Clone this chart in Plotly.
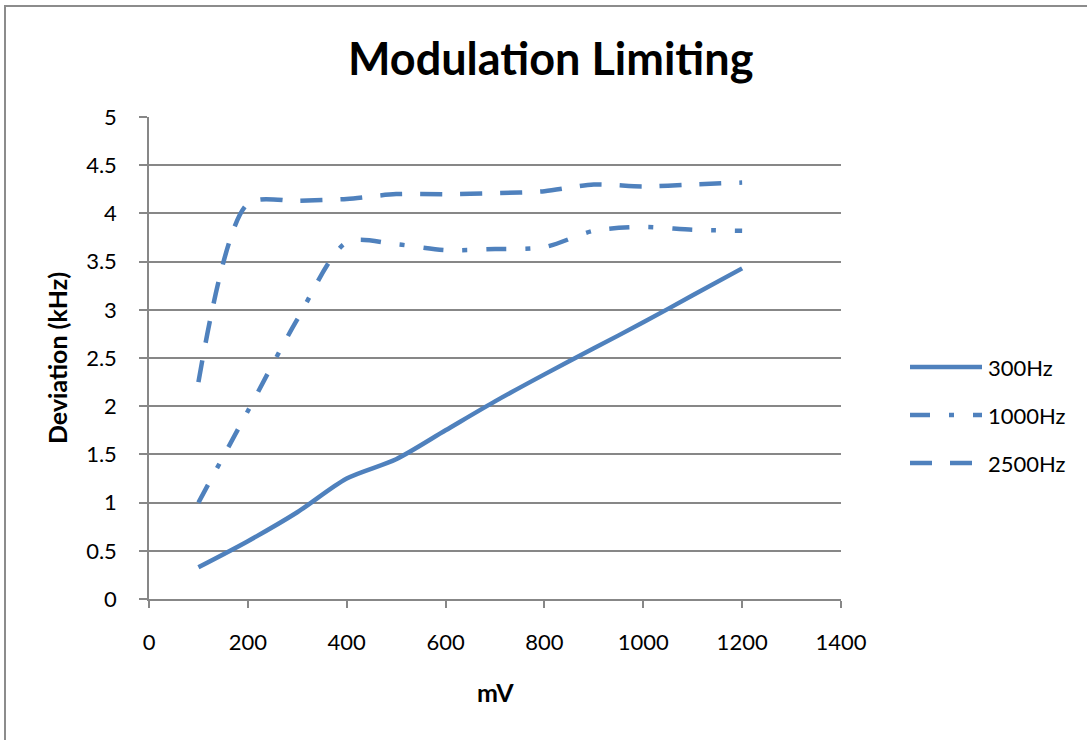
import plotly.graph_objects as go

# Input level (mV) and measured deviation (kHz) per modulation frequency
mv = [100, 200, 300, 400, 500, 600, 700, 800, 900, 1000, 1100, 1200]
dev_300hz = [0.33, 0.60, 0.90, 1.25, 1.45, 1.75, 2.05, 2.33, 2.60, 2.87, 3.15, 3.43]
dev_1000hz = [1.00, 1.95, 2.90, 3.70, 3.68, 3.62, 3.63, 3.65, 3.82, 3.86, 3.83, 3.82]
dev_2500hz = [2.25, 4.10, 4.13, 4.15, 4.20, 4.20, 4.21, 4.23, 4.30, 4.28, 4.30, 4.32]

series_names = ["300Hz", "1000Hz", "2500Hz"]
series_values = [dev_300hz, dev_1000hz, dev_2500hz]
series_dash = ["solid", "20px,19px,5px,19px", "22px,18px"]

x_ticks = [0, 200, 400, 600, 800, 1000, 1200, 1400]
y_ticks = [0, 0.5, 1, 1.5, 2, 2.5, 3, 3.5, 4, 4.5, 5]

BLUE = "#4F81BD"
GRAY = "#878787"
FONT = "Lato, 'Open Sans', sans-serif"

W, H = 1087, 740
L, R, T, B = 149, 246, 117, 141
PW, PH = W - L - R, H - T - B


def px_x(px):
    return (px - L) / PW


def px_y(py):
    return (H - B - py) / PH


fig = go.Figure()
for name, vals, dash in zip(series_names, series_values, series_dash):
    fig.add_trace(go.Scatter(
        x=mv, y=vals, name=name, mode="lines",
        line=dict(color=BLUE, width=4.5, dash=dash, shape="spline", smoothing=0.8),
        showlegend=False,
    ))

shapes = []
annotations = []

# Legend drawn as line samples with labels beside them
legend_rows = [367, 415, 463]
for name, dash, py in zip(series_names, series_dash, legend_rows):
    shapes.append(dict(
        type="line", xref="paper", yref="paper",
        x0=px_x(910), x1=px_x(982), y0=px_y(py), y1=px_y(py),
        line=dict(color=BLUE, width=4.5, dash=dash),
    ))
    annotations.append(dict(
        text=name, xref="paper", yref="paper",
        x=px_x(986), y=px_y(py), xanchor="left", yanchor="middle",
        showarrow=False, font=dict(family=FONT, size=22, color="#000000"),
    ))

# Outer chart frame
shapes.append(dict(
    type="rect", xref="paper", yref="paper",
    x0=px_x(5), x1=px_x(1200), y0=px_y(6), y1=px_y(800),
    line=dict(color="#8c8c8c", width=2), layer="below",
))

annotations.append(dict(
    text="<b>Modulation Limiting</b>", xref="paper", yref="paper",
    x=px_x(550), y=px_y(58), xanchor="center", yanchor="middle",
    showarrow=False, font=dict(family=FONT, size=45, color="#000000"),
))
annotations.append(dict(
    text="<b>mV</b>", xref="paper", yref="paper",
    x=px_x(495), y=px_y(692), xanchor="center", yanchor="middle",
    showarrow=False, font=dict(family=FONT, size=25, color="#000000"),
))
annotations.append(dict(
    text="<b>Deviation (kHz)</b>", xref="paper", yref="paper",
    x=px_x(57), y=px_y(358), xanchor="center", yanchor="middle",
    textangle=-90, showarrow=False, font=dict(family=FONT, size=25, color="#000000"),
))

fig.update_layout(
    width=W, height=H,
    margin=dict(l=L, r=R, t=T, b=B),
    paper_bgcolor="white", plot_bgcolor="white",
    shapes=shapes, annotations=annotations,
    showlegend=False,
)
fig.update_xaxes(
    range=[0, 1400], tickvals=x_ticks, ticktext=[str(v) for v in x_ticks],
    showgrid=False, zeroline=False,
    showline=True, linecolor=GRAY, linewidth=1.5,
    ticks="outside", ticklen=7, tickcolor=GRAY, tickwidth=1.5,
    ticklabelstandoff=16,
    tickfont=dict(family=FONT, size=22, color="#000000"),
)
fig.update_yaxes(
    range=[0, 5], tickvals=y_ticks, ticktext=[f"{v:g}" for v in y_ticks],
    showgrid=True, gridcolor=GRAY, gridwidth=1.5, zeroline=False,
    showline=True, linecolor=GRAY, linewidth=1.5,
    ticks="outside", ticklen=8, tickcolor=GRAY, tickwidth=1.5,
    ticklabelstandoff=18,
    tickfont=dict(family=FONT, size=22, color="#000000"),
)

fig.write_html("out.html")
